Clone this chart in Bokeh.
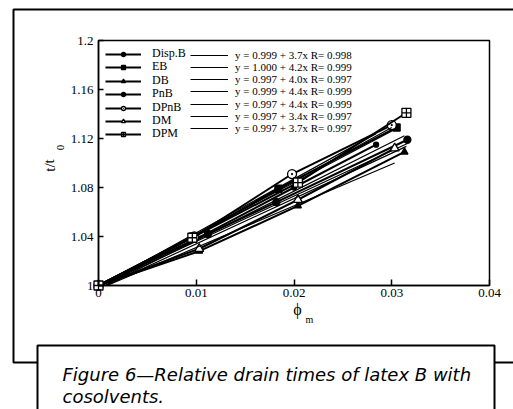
from bokeh.plotting import figure
from bokeh.models import (BoxAnnotation, Label, Legend, LegendItem, CustomJSTickFormatter,
                          FixedTicker, Range1d, LinearAxis)
from bokeh.embed import file_html
from bokeh.resources import INLINE

# ---- data ----
names = ["Disp.B", "EB", "DB", "PnB", "DPnB", "DM", "DPM"]
x_dispb = [0.0, 0.0112, 0.0182, 0.0316]
y_dispb = [1.0, 1.042, 1.068, 1.119]
x_eb = [0.0, 0.0097, 0.0184, 0.0305]
y_eb = [1.0, 1.040, 1.079, 1.129]
x_db = [0.0, 0.0103, 0.0204, 0.0313]
y_db = [1.0, 1.028, 1.065, 1.109]
x_pnb = [0.0, 0.0112, 0.0200, 0.0284]
y_pnb = [1.0, 1.043, 1.080, 1.115]
x_dpnb = [0.0, 0.0098, 0.0198, 0.0300]
y_dpnb = [1.0, 1.040, 1.091, 1.131]
x_dm = [0.0, 0.0103, 0.0204, 0.0303]
y_dm = [1.0, 1.030, 1.070, 1.112]
x_dpm = [0.0, 0.0096, 0.0204, 0.0315]
y_dpm = [1.0, 1.039, 1.084, 1.141]

fit_a = [0.999, 1.000, 0.997, 0.999, 0.997, 0.997, 0.997]
fit_b = [3.7, 4.2, 4.0, 4.4, 4.4, 3.4, 3.7]
fit_r = [0.998, 0.999, 0.997, 0.999, 0.999, 0.997, 0.997]

x_min, x_max = 0.0, 0.04
y_min, y_max = 1.0, 1.2
x_ticks = [0, 0.01, 0.02, 0.03, 0.04]
y_ticks = [1.0, 1.04, 1.08, 1.12, 1.16, 1.2]

caption_1 = "Figure 6\u2014Relative drain times of latex B with"
caption_2 = "cosolvents."

xs = [x_dispb, x_eb, x_db, x_pnb, x_dpnb, x_dm, x_dpm]
ys = [y_dispb, y_eb, y_db, y_pnb, y_dpnb, y_dm, y_dpm]
markers = ["circle", "square", "triangle", "circle", "circle_dot", "triangle", "square_cross"]
msizes = [7, 7, 7, 5, 9, 9, 9]
filled = [True, True, True, True, False, False, False]

# ---- layout geometry (pixels) ----
W, H = 513, 409
PL, PR, PT, PB = 98, 489, 40, 285   # plot-area box in page pixels
sx_per = (x_max - x_min) / (PR - PL)
sy_per = (y_max - y_min) / (PB - PT)
x_start = x_min - PL * sx_per
x_end = x_max + (W - PR) * sx_per
y_start = y_min - (H - PB) * sy_per
y_end = y_max + PT * sy_per

LEG1_X, LEG1_Y0, LEG1_DY, LEG1_FS = 105, 54, 13.4, 12   # glyph left, first row centre, step, font px
LEG2_X, LEG2_Y0, LEG2_DY, LEG2_FS = 190, 54, 12.3, 11


def up(v):
    """page pixel (top-down) -> screen units (bottom-up)"""
    return H - v


SERIF = "Liberation Serif"

p = figure(width=W, height=H, output_backend="svg", toolbar_location=None,
           x_range=Range1d(x_start, x_end), y_range=Range1d(y_start, y_end),
           x_axis_location=None, y_axis_location=None,
           min_border=0, min_border_left=0, min_border_right=0,
           min_border_top=0, min_border_bottom=0)
p.grid.visible = False
p.outline_line_color = None
p.background_fill_color = "white"
p.border_fill_color = "white"

fmt = CustomJSTickFormatter(code="return String(Number(tick.toFixed(3)));")
xaxis = LinearAxis(fixed_location=y_min, bounds=(x_min, x_max))
yaxis = LinearAxis(fixed_location=x_min, bounds=(y_min, y_max))
for ax, ticks, tin in ((xaxis, x_ticks, 6), (yaxis, y_ticks, 5)):
    ax.ticker = FixedTicker(ticks=ticks)
    ax.formatter = fmt
    ax.major_tick_in = tin
    ax.major_tick_out = 0
    ax.minor_tick_line_color = None
    ax.axis_line_color = "black"
    ax.axis_line_width = 1.5
    ax.major_tick_line_color = "black"
    ax.major_tick_line_width = 1.5
    ax.major_label_text_font = SERIF
    ax.major_label_text_font_size = "13px"
    ax.major_label_text_color = "black"
xaxis.major_label_standoff = 3
yaxis.major_label_standoff = 5
p.add_layout(xaxis, "below")
p.add_layout(yaxis, "left")

# plot box
p.add_layout(BoxAnnotation(left=x_min, right=x_max, bottom=y_min, top=y_max,
                           fill_alpha=0, line_color="black", line_alpha=1, line_width=1.5))

legend_style = dict(spacing=0, padding=0, margin=0, label_text_color="black",
                    label_text_font=SERIF, background_fill_alpha=0, border_line_alpha=0)

for i, name in enumerate(names):
    lr = p.line(xs[i], ys[i], line_color="black", line_width=2)
    sr = p.scatter(xs[i], ys[i], marker=markers[i], size=msizes[i], line_color="black",
                   line_width=1.3, fill_color="black" if filled[i] else "white")
    x0 = max(x_min, (y_min - fit_a[i]) / fit_b[i])
    fx = [x0, max(xs[i])]
    fy = [fit_a[i] + fit_b[i] * v for v in fx]
    fr = p.line(fx, fy, line_color="black", line_width=1.2)

    # one legend per row so that rows can sit as tightly as in the original
    c1 = LEG1_Y0 + i * LEG1_DY
    h1 = round(LEG1_FS * 1.15)
    p.add_layout(Legend(items=[LegendItem(label=name, renderers=[lr, sr])],
                        location=(LEG1_X, round(up(c1) - h1 / 2)), glyph_width=36,
                        glyph_height=10, label_height=10, label_standoff=11,
                        label_text_font_size="%dpx" % LEG1_FS, **legend_style), "center")
    eq = "y = %.3f + %.1fx R= %.3f" % (fit_a[i], fit_b[i], fit_r[i])
    c2 = LEG2_Y0 + i * LEG2_DY
    h2 = round(LEG2_FS * 1.15)
    p.add_layout(Legend(items=[LegendItem(label=eq, renderers=[fr])],
                        location=(LEG2_X, round(up(c2) - h2 / 2)), glyph_width=38,
                        glyph_height=8, label_height=8, label_standoff=7,
                        label_text_font_size="%dpx" % LEG2_FS, **legend_style), "center")

# outer frame of the figure panel and caption box
p.add_layout(BoxAnnotation(left=13, right=W + 20, top=up(9), bottom=up(362),
                           left_units="screen", right_units="screen",
                           top_units="screen", bottom_units="screen",
                           fill_alpha=0, line_color="black", line_alpha=1, line_width=2))
p.add_layout(BoxAnnotation(left=37, right=494, top=up(345), bottom=up(H + 20),
                           left_units="screen", right_units="screen",
                           top_units="screen", bottom_units="screen",
                           fill_color="white", fill_alpha=1, line_color="black",
                           line_alpha=1, line_width=2))

# axis titles
p.add_layout(Label(x=49, y=up(165), x_units="screen", y_units="screen", text="t/t",
                   angle=1.5708, text_font=SERIF, text_font_size="15px", text_color="black",
                   text_align="center", text_baseline="middle"))
p.add_layout(Label(x=60, y=up(147), x_units="screen", y_units="screen", text="0",
                   angle=1.5708, text_font=SERIF, text_font_size="11px", text_color="black",
                   text_align="center", text_baseline="middle"))
p.add_layout(Label(x=297, y=up(309), x_units="screen", y_units="screen", text="\u03d5",
                   text_font=SERIF, text_font_size="16px", text_color="black",
                   text_align="center", text_baseline="middle"))
p.add_layout(Label(x=309, y=up(319), x_units="screen", y_units="screen", text="m",
                   text_font=SERIF, text_font_size="10px", text_color="black",
                   text_align="center", text_baseline="middle"))

# caption
for txt, yy in ((caption_1, 374), (caption_2, 396)):
    p.add_layout(Label(x=62, y=up(yy), x_units="screen", y_units="screen", text=txt,
                       text_font="DejaVu Sans", text_font_style="italic", text_color="black",
                       text_font_size="18px", text_baseline="middle"))

open("out.html", "w").write(file_html(p, INLINE))
